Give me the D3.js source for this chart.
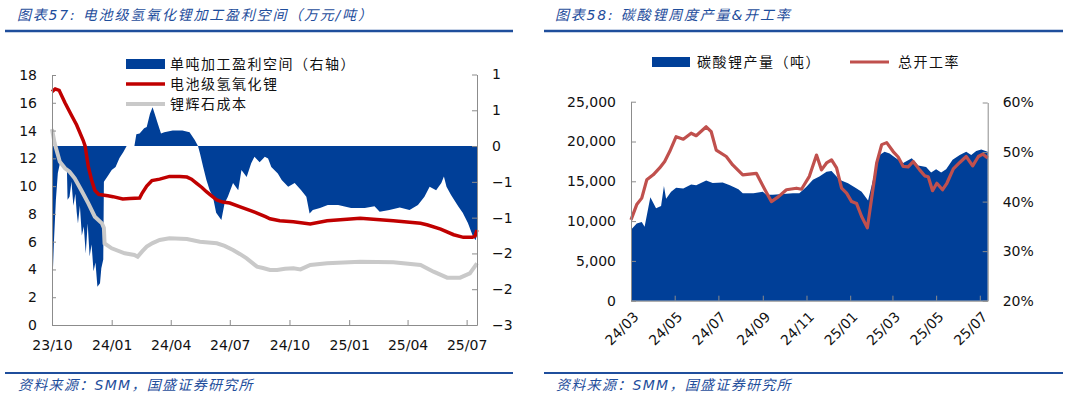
<!DOCTYPE html>
<html>
<head>
<meta charset="utf-8">
<script src="https://d3js.org/d3.v7.min.js"></script>
<style>
  body { margin:0; background:#fff; }
  svg text { font-family: "DejaVu Sans", Verdana, sans-serif; }
  .cn { font-family: "DejaVu Sans", "Noto Sans CJK SC", sans-serif; }
  .axis path, .axis line { stroke:#8c8c8c; }
  .axis text { font-size:14px; fill:#111; }
</style>
</head>
<body>
<script>
// ---------- chart 57 data (万元/吨) ----------
// 单吨加工盈利空间, right axis
var profit = [
  ["2023-10-01",-2.6],["2023-10-02",-2.2],["2023-10-04",-1.6],["2023-10-07",-0.9],["2023-10-10",-0.45],
  ["2023-10-13",-0.3],["2023-10-18",-0.33],["2023-10-22",-0.35],["2023-10-24",-0.4],["2023-10-25",-0.9],
  ["2023-10-28",-0.85],["2023-10-31",-0.6],["2023-11-03",-1.0],["2023-11-06",-0.8],["2023-11-08",-1.1],
  ["2023-11-10",-1.3],["2023-11-13",-1.0],["2023-11-16",-1.5],["2023-11-19",-1.35],["2023-11-22",-1.8],
  ["2023-11-25",-1.3],["2023-11-28",-1.85],["2023-12-01",-1.65],["2023-12-04",-2.1],["2023-12-07",-1.95],
  ["2023-12-10",-2.36],["2023-12-14",-2.3],["2023-12-16",-2.05],["2023-12-19",-1.9],["2023-12-20",-0.6],
  ["2023-12-26",-0.5],["2024-01-01",-0.4],["2024-01-07",-0.35],["2024-01-13",-0.2],["2024-01-19",-0.1],
  ["2024-01-24",0],["2024-02-05",0],["2024-02-08",0.2],["2024-02-13",0.21],["2024-02-20",0.3],
  ["2024-02-24",0.32],["2024-02-29",0.54],["2024-03-04",0.65],["2024-03-07",0.55],["2024-03-12",0.38],
  ["2024-03-17",0.21],["2024-03-22",0.23],["2024-04-04",0.26],["2024-04-19",0.26],["2024-04-30",0.23],
  ["2024-05-08",0.1],["2024-05-13",0],["2024-05-16",-0.12],["2024-05-21",-0.35],["2024-05-26",-0.57],
  ["2024-05-31",-0.74],["2024-06-05",-0.85],["2024-06-10",-1.12],["2024-06-18",-1.24],["2024-06-23",-0.96],
  ["2024-06-28",-0.85],["2024-07-06",-0.62],["2024-07-14",-0.74],["2024-07-19",-0.4],["2024-07-27",-0.52],
  ["2024-08-03",-0.29],["2024-08-08",-0.18],["2024-08-16",-0.27],["2024-08-24",-0.18],["2024-08-29",-0.21],
  ["2024-09-03",-0.35],["2024-09-13",-0.46],["2024-09-19",-0.57],["2024-09-29",-0.68],["2024-10-09",-0.62],
  ["2024-10-19",-0.74],["2024-10-27",-0.85],["2024-11-01",-1.13],["2024-11-06",-1.07],["2024-11-17",-1.04],
  ["2024-11-29",-0.99],["2024-12-15",-0.99],["2025-01-04",-1.04],["2025-01-25",-1.04],["2025-02-09",-1.01],
  ["2025-02-17",-1.1],["2025-03-04",-1.07],["2025-03-20",-1.03],["2025-04-04",-1.07],["2025-04-17",-0.99],
  ["2025-04-27",-0.85],["2025-05-05",-0.68],["2025-05-15",-0.74],["2025-05-23",-0.62],["2025-05-27",-0.51],
  ["2025-05-31",-0.68],["2025-06-07",-0.82],["2025-06-18",-1.01],["2025-06-25",-1.12],["2025-07-03",-1.29],
  ["2025-07-11",-1.52],["2025-07-15",-1.58],["2025-07-17",-1.46]
];
// 电池级氢氧化锂, left axis
var lioh = [
  ["2023-10-01",16.8],["2023-10-06",17.0],["2023-10-12",16.9],["2023-10-21",16.0],["2023-10-31",15.1],
  ["2023-11-08",14.4],["2023-11-18",13.3],["2023-11-21",12.9],["2023-11-26",11.4],["2023-12-01",10.44],
  ["2023-12-06",9.7],["2023-12-12",9.4],["2023-12-18",9.36],["2023-12-26",9.3],["2024-01-03",9.24],
  ["2024-01-18",9.07],["2024-01-29",9.1],["2024-02-13",9.14],["2024-02-17",9.5],["2024-02-24",10.0],
  ["2024-03-03",10.4],["2024-03-15",10.5],["2024-03-30",10.7],["2024-04-15",10.7],["2024-04-26",10.65],
  ["2024-05-03",10.5],["2024-05-11",10.2],["2024-05-19",9.9],["2024-05-26",9.6],["2024-06-03",9.3],
  ["2024-06-11",9.0],["2024-06-20",8.85],["2024-07-01",8.78],["2024-07-17",8.5],["2024-08-01",8.25],
  ["2024-08-12",8.06],["2024-08-25",7.8],["2024-09-01",7.65],["2024-09-16",7.5],["2024-10-07",7.44],
  ["2024-11-02",7.27],["2024-11-28",7.5],["2025-01-18",7.68],["2025-03-10",7.5],["2025-04-21",7.32],
  ["2025-05-02",7.2],["2025-05-22",6.9],["2025-06-11",6.5],["2025-06-26",6.31],["2025-07-10",6.31],
  ["2025-07-14",6.4],["2025-07-17",6.84]
];
// 锂辉石成本, left axis
var oreCost = [
  ["2023-10-01",14.1],["2023-10-05",13.1],["2023-10-13",11.76],["2023-10-21",11.28],["2023-10-28",11.04],
  ["2023-11-05",10.56],["2023-11-15",9.72],["2023-11-26",8.76],["2023-12-06",7.8],["2023-12-17",7.32],
  ["2023-12-20",6.98],["2023-12-21",5.88],["2024-01-01",5.52],["2024-01-21",5.16],["2024-02-05",5.04],
  ["2024-02-10",4.92],["2024-02-17",5.3],["2024-02-24",5.64],["2024-03-04",5.9],["2024-03-15",6.12],
  ["2024-03-30",6.24],["2024-04-26",6.19],["2024-05-16",6.0],["2024-06-11",5.88],["2024-06-23",5.7],
  ["2024-07-06",5.4],["2024-07-17",5.1],["2024-07-27",4.8],["2024-08-12",4.2],["2024-08-21",4.1],
  ["2024-09-01",3.96],["2024-09-12",3.96],["2024-09-24",4.05],["2024-10-07",4.08],["2024-10-18",4.0],
  ["2024-11-02",4.32],["2024-11-28",4.44],["2025-01-18",4.56],["2025-03-10",4.51],["2025-04-21",4.32],
  ["2025-05-11",3.84],["2025-06-01",3.41],["2025-06-21",3.41],["2025-07-06",3.72],["2025-07-17",4.44]
];
var ticks57x = ["2023-10-01","2024-01-01","2024-04-01","2024-07-01","2024-10-01","2025-01-01","2025-04-01","2025-07-01"];
var ticks57left = [0,2,4,6,8,10,12,14,16,18];
var ticks57right = [-3,-2.4,-1.8,-1.2,-0.6,0,0.6,1.2];

// ---------- chart 58 data ----------
// 碳酸锂产量 (吨), left axis
var production = [
  ["2024-03-01",8900],["2024-03-09",9700],["2024-03-16",9900],["2024-03-20",9300],["2024-03-28",13000],
  ["2024-04-05",11600],["2024-04-12",11900],["2024-04-16",14400],["2024-04-19",12800],["2024-04-26",13700],
  ["2024-05-03",14200],["2024-05-13",14100],["2024-05-24",14600],["2024-05-31",14500],["2024-06-14",15100],
  ["2024-06-23",14800],["2024-07-07",14850],["2024-07-17",14500],["2024-07-29",14000],["2024-08-04",13500],
  ["2024-08-19",13500],["2024-09-01",13700],["2024-09-06",13300],["2024-09-15",13300],["2024-09-29",13400],
  ["2024-10-13",13500],["2024-10-22",13500],["2024-11-01",14300],["2024-11-10",15200],["2024-11-19",15600],
  ["2024-11-29",16200],["2024-12-06",16300],["2024-12-13",15600],["2024-12-17",15200],["2024-12-29",14750],
  ["2025-01-10",14100],["2025-01-17",13700],["2025-01-26",12600],["2025-02-04",16000],["2025-02-11",18300],
  ["2025-02-18",18700],["2025-02-25",18500],["2025-03-06",17900],["2025-03-16",17300],["2025-03-28",17900],
  ["2025-04-06",17000],["2025-04-17",16800],["2025-04-24",16100],["2025-05-01",16500],["2025-05-08",16100],
  ["2025-05-15",16500],["2025-05-24",17700],["2025-06-03",18300],["2025-06-12",18700],["2025-06-19",18300],
  ["2025-06-26",18800],["2025-07-03",19000],["2025-07-12",18700]
];
// 总开工率 (%), right axis
var runRate = [
  ["2024-03-01",36.3],["2024-03-09",39.4],["2024-03-16",40.7],["2024-03-23",44.4],["2024-04-01",45.4],
  ["2024-04-10",46.8],["2024-04-17",48.1],["2024-04-24",50.1],["2024-05-03",53.1],["2024-05-13",52.6],
  ["2024-05-24",53.8],["2024-05-31",53.3],["2024-06-14",55.1],["2024-06-21",54.1],["2024-06-28",50.4],
  ["2024-07-12",49.1],["2024-07-21",47.4],["2024-08-04",45.4],["2024-08-23",45.7],["2024-09-04",42.4],
  ["2024-09-13",40.0],["2024-09-23",41.0],["2024-10-04",42.4],["2024-10-18",42.7],["2024-10-25",42.5],
  ["2024-11-05",45.1],["2024-11-15",49.4],["2024-11-22",46.4],["2024-11-29",47.8],["2024-12-06",48.4],
  ["2024-12-13",46.8],["2024-12-20",42.7],["2024-12-27",41.7],["2025-01-03",40.0],["2025-01-10",39.6],
  ["2025-01-17",37.0],["2025-01-25",34.7],["2025-02-07",47.8],["2025-02-14",51.5],["2025-02-21",51.9],
  ["2025-03-02",50.1],["2025-03-09",49.0],["2025-03-16",47.1],["2025-03-23",47.0],["2025-03-30",48.1],
  ["2025-04-08",46.4],["2025-04-15",45.2],["2025-04-20",45.0],["2025-04-26",42.2],["2025-05-02",43.7],
  ["2025-05-10",42.4],["2025-05-16",43.7],["2025-05-25",46.6],["2025-06-03",47.9],["2025-06-12",49.1],
  ["2025-06-21",47.2],["2025-06-29",49.1],["2025-07-05",49.6],["2025-07-12",48.8]
];
var ticks58x = ["2024-03-01","2024-05-01","2024-07-01","2024-09-01","2024-11-01","2025-01-01","2025-03-01","2025-05-01","2025-07-01"];
var ticks58left = [0,5000,10000,15000,20000,25000];
var ticks58right = [20,30,40,50,60];

var titles = ["图表57:  电池级氢氧化锂加工盈利空间（万元/吨）", "图表58:  碳酸锂周度产量&开工率"];
var sourceText = "资料来源：SMM，国盛证券研究所";
var legend57 = ["单吨加工盈利空间（右轴）", "电池级氢氧化锂", "锂辉石成本"];
var legend58 = ["碳酸锂产量（吨）", "总开工率"];

var parse = d3.timeParse("%Y-%m-%d");
var fmtMonth = d3.timeFormat("%y/%m");
var BLUE = "#003f98", TITLE_BLUE = "#1f4e9c";

var svg = d3.select("body").append("svg")
    .attr("width", 1065).attr("height", 398);

// ---------- frames: titles, rules, sources ----------
var panels = [{x0:5, x1:513, tx:17}, {x0:544, x1:1063, tx:555}];
panels.forEach(function(p, i){
    svg.append("text").attr("class","cn")
        .attr("x", p.tx).attr("y", 20)
        .style("font-size","14px").style("font-style","italic")
        .style("letter-spacing","1.8px").attr("fill", TITLE_BLUE)
        .text(titles[i]);
    svg.append("line").attr("x1",p.x0).attr("x2",p.x1).attr("y1",31).attr("y2",31)
        .attr("stroke", TITLE_BLUE).attr("stroke-width",2.5);
    svg.append("line").attr("x1",p.x0).attr("x2",p.x1).attr("y1",373).attr("y2",373)
        .attr("stroke", TITLE_BLUE).attr("stroke-width",2);
    svg.append("text").attr("class","cn")
        .attr("x", p.tx + 1).attr("y", 390)
        .style("font-size","14px").style("font-style","italic")
        .style("letter-spacing","1.3px").attr("fill", TITLE_BLUE)
        .text(sourceText);
});

// ---------- chart 57 ----------
var x57 = d3.scaleTime().domain([parse("2023-10-01"), parse("2025-07-17")]).range([52, 477]);
var yL57 = d3.scaleLinear().domain([0, 18]).range([325, 75]);
var yR57 = d3.scaleLinear().domain([-3, 1.2]).range([325, 74.5]);

var g57 = svg.append("g");

g57.append("path").datum(profit)
    .attr("fill", BLUE)
    .attr("d", d3.area()
        .x(function(d){ return x57(parse(d[0])); })
        .y0(yR57(0))
        .y1(function(d){ return yR57(d[1]); }));

g57.append("path").datum(oreCost)
    .attr("fill","none").attr("stroke","#c9c9c9").attr("stroke-width",4)
    .attr("d", d3.line().x(function(d){ return x57(parse(d[0])); }).y(function(d){ return yL57(d[1]); }));

g57.append("path").datum(lioh)
    .attr("fill","none").attr("stroke","#c00000").attr("stroke-width",3.5)
    .attr("d", d3.line().x(function(d){ return x57(parse(d[0])); }).y(function(d){ return yL57(d[1]); }));

// axes
g57.append("g").attr("class","axis").attr("transform","translate(0,325)")
    .call(d3.axisBottom(x57).tickValues(ticks57x.map(parse)).tickFormat(fmtMonth)
        .tickSizeInner(-5).tickSizeOuter(0).tickPadding(15));
g57.append("g").attr("class","axis").attr("transform","translate(52,0)")
    .call(d3.axisLeft(yL57).tickValues(ticks57left).tickSizeInner(-4).tickSizeOuter(0).tickPadding(15));
g57.append("g").attr("class","axis").attr("transform","translate(477,0)")
    .call(d3.axisRight(yR57).tickValues(ticks57right).tickFormat(d3.format(".0f"))
        .tickSizeInner(-5).tickSizeOuter(0).tickPadding(15));
g57.selectAll(".axis text").style("font-size","14px");

// legend
var lg57 = g57.append("g");
lg57.append("rect").attr("x",126).attr("y",59).attr("width",39).attr("height",10).attr("fill",BLUE);
lg57.append("line").attr("x1",126).attr("x2",165).attr("y1",84).attr("y2",84)
    .attr("stroke","#c00000").attr("stroke-width",3.5);
lg57.append("line").attr("x1",126).attr("x2",165).attr("y1",104).attr("y2",104)
    .attr("stroke","#c9c9c9").attr("stroke-width",4);
legend57.forEach(function(t, i){
    lg57.append("text").attr("class","cn").attr("x",170).attr("y",64 + i*20)
        .attr("dominant-baseline","central")
        .style("font-size","14px").style("letter-spacing","1.5px").attr("fill","#111")
        .text(t);
});

// ---------- chart 58 ----------
var x58 = d3.scaleTime().domain([parse("2024-03-01"), parse("2025-07-12")]).range([631, 987.7]);
var yL58 = d3.scaleLinear().domain([0, 25000]).range([300.7, 101.7]);
var yR58 = d3.scaleLinear().domain([20, 60]).range([300.7, 102.5]);

var g58 = svg.append("g");

g58.append("path").datum(production)
    .attr("fill", BLUE)
    .attr("d", d3.area()
        .x(function(d){ return x58(parse(d[0])); })
        .y0(yL58(0))
        .y1(function(d){ return yL58(d[1]); }));

g58.append("path").datum(runRate)
    .attr("fill","none").attr("stroke","#c0504d").attr("stroke-width",3.2)
    .attr("stroke-linejoin","round")
    .attr("d", d3.line().x(function(d){ return x58(parse(d[0])); }).y(function(d){ return yR58(d[1]); }));

var xAx58 = g58.append("g").attr("class","axis").attr("transform","translate(0,300.7)")
    .call(d3.axisBottom(x58).tickValues(ticks58x.map(parse)).tickFormat(fmtMonth)
        .tickSizeInner(-5).tickSizeOuter(0));
xAx58.selectAll("text")
    .attr("y", 0).attr("dy", 0)
    .attr("transform","translate(8,17) rotate(-45)")
    .style("text-anchor","end");
g58.append("g").attr("class","axis").attr("transform","translate(631,0)")
    .call(d3.axisLeft(yL58).tickValues(ticks58left).tickFormat(d3.format(","))
        .tickSizeInner(-5).tickSizeOuter(0).tickPadding(15));
g58.append("g").attr("class","axis").attr("transform","translate(987.7,0)")
    .call(d3.axisRight(yR58).tickValues(ticks58right).tickFormat(function(d){ return d + "%"; })
        .tickSizeInner(-5).tickSizeOuter(0).tickPadding(15));
g58.selectAll(".axis text").style("font-size","14px");

// legend
var lg58 = g58.append("g");
lg58.append("rect").attr("x",652).attr("y",57).attr("width",38).attr("height",10).attr("fill",BLUE);
lg58.append("line").attr("x1",850).attr("x2",889).attr("y1",62).attr("y2",62)
    .attr("stroke","#c0504d").attr("stroke-width",3.2);
lg58.append("text").attr("class","cn").attr("x",697).attr("y",62)
    .attr("dominant-baseline","central")
    .style("font-size","14px").style("letter-spacing","1.5px").attr("fill","#111")
    .text(legend58[0]);
lg58.append("text").attr("class","cn").attr("x",898).attr("y",62)
    .attr("dominant-baseline","central")
    .style("font-size","14px").style("letter-spacing","1.5px").attr("fill","#111")
    .text(legend58[1]);
</script>
</body>
</html>
